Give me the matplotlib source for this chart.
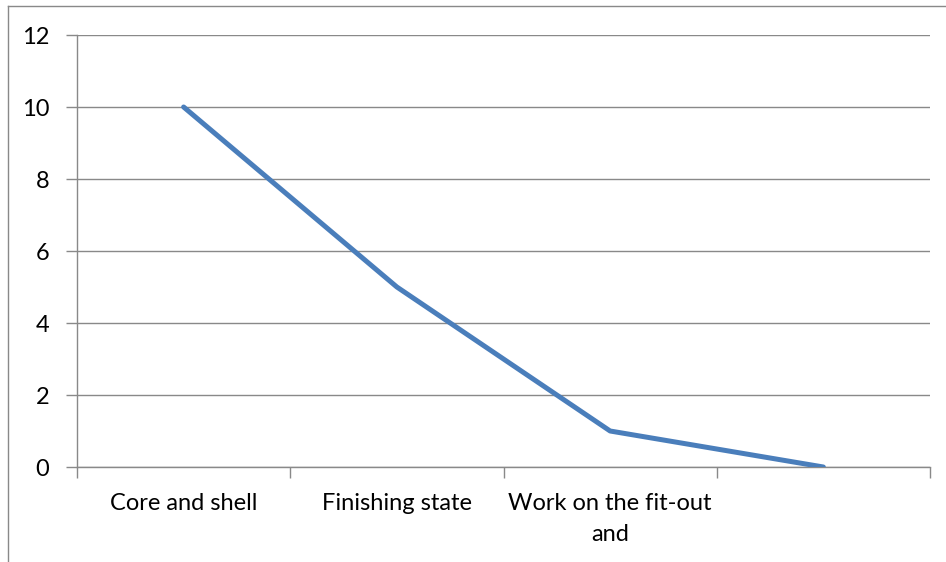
import matplotlib
matplotlib.use("Agg")
import matplotlib.pyplot as plt
from matplotlib.lines import Line2D

categories = ["Core and shell", "Finishing state", "Work on the fit-out\nand", ""]
values = [10, 5, 1, 0]
yticks = [0, 2, 4, 6, 8, 10, 12]

plt.rcParams['font.family'] = ['Lato', 'DejaVu Sans']
grey = '#898989'
fs = 17

fig = plt.figure(figsize=(9.46, 5.62), dpi=100)
ax = fig.add_axes([77/946, 1-467/562, (930-77)/946, (467-35)/562])

x = list(range(len(categories)))
ax.plot(x, values, color='#4A7EBB', lw=3.6, solid_capstyle='round', zorder=3)

ax.set_xlim(-0.5, len(categories)-0.5)
ax.set_ylim(0, 12)
ax.set_yticks(yticks)
ax.set_yticklabels([str(v) for v in yticks], fontsize=fs)
ax.yaxis.grid(True, color=grey, lw=1)
ax.set_axisbelow(True)

ax.set_xticks([i - 0.5 for i in range(len(categories)+1)])
ax.set_xticklabels([])
ax.set_xticks(x, minor=True)
ax.set_xticklabels(categories, minor=True, fontsize=fs, linespacing=1.55)
ax.tick_params(axis='x', which='minor', length=0, pad=19)
ax.tick_params(axis='x', which='major', length=8, color=grey, width=1)
ax.tick_params(axis='y', length=8, color=grey, width=1, pad=12)

for s in ['top', 'right']:
    ax.spines[s].set_visible(False)
for s in ['left', 'bottom']:
    ax.spines[s].set_color(grey)
    ax.spines[s].set_linewidth(1)

# outer chart border (cropped on right and bottom)
fig.add_artist(Line2D([8/946, 1], [1-6/562, 1-6/562], transform=fig.transFigure, color=grey, lw=1))
fig.add_artist(Line2D([8/946, 8/946], [0, 1-6/562], transform=fig.transFigure, color=grey, lw=1))

fig.savefig("out.png", dpi=100)
